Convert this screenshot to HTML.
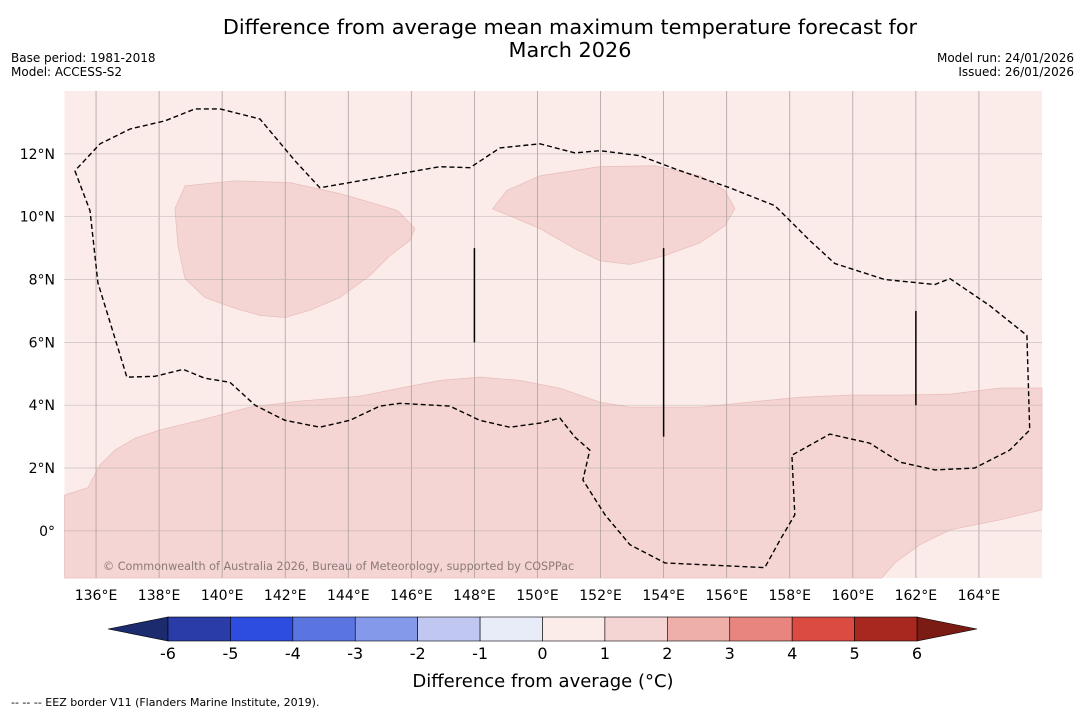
<!DOCTYPE html>
<html><head><meta charset="utf-8"><style>
body{margin:0;background:#fff;font-family:"Liberation Sans","DejaVu Sans",sans-serif}
svg text{font-family:"DejaVu Sans","Liberation Sans",sans-serif}
</style></head><body>
<svg id="chart" width="1085" height="713" viewBox="0 0 1085 713" xmlns="http://www.w3.org/2000/svg">
<rect width="1085" height="713" fill="#fff"/>
<text x="570" y="34" font-size="20.8" text-anchor="middle">Difference from average mean maximum temperature forecast for</text>
<text x="570" y="57" font-size="20.8" text-anchor="middle">March 2026</text>
<text x="11" y="62" font-size="12">Base period: 1981-2018</text>
<text x="11" y="76" font-size="12">Model: ACCESS-S2</text>
<text x="1074" y="62" font-size="12" text-anchor="end">Model run: 24/01/2026</text>
<text x="1074" y="76" font-size="12" text-anchor="end">Issued: 26/01/2026</text>
<g id="map"></g>
<g id="cbar"></g>
<text x="543" y="687" font-size="18" text-anchor="middle">Difference from average (°C)</text>
<text x="11" y="706" font-size="11">--  --  -- EEZ border V11 (Flanders Marine Institute, 2019).</text>
</svg>
<script>
const lonTicks=[136,138,140,142,144,146,148,150,152,154,156,158,160,162,164];
const latTicks=[12,10,8,6,4,2,0];
const eezBorder=[[135.33,11.46],[135.81,10.19],[136.06,7.9],[136.98,4.89],[137.87,4.92],[138.76,5.14],[139.45,4.86],[140.25,4.73],[141.04,4.0],[141.99,3.52],[143.1,3.3],[144.05,3.52],[145.0,3.97],[145.64,4.06],[147.22,3.97],[148.17,3.52],[149.12,3.3],[150.08,3.43],[150.71,3.59],[151.19,2.98],[151.66,2.57],[151.44,1.62],[152.14,0.51],[152.93,-0.44],[154.04,-1.02],[157.21,-1.17],[157.69,-0.29],[158.16,0.51],[158.07,2.41],[159.27,3.08],[160.54,2.79],[161.49,2.19],[162.6,1.94],[163.87,2.0],[164.98,2.57],[165.61,3.21],[165.52,6.22],[164.34,7.17],[163.08,8.03],[162.6,7.84],[161.01,8.0],[159.43,8.51],[158.64,9.24],[157.53,10.35],[156.1,10.92],[154.36,11.52],[153.25,11.94],[151.98,12.1],[151.19,12.03],[150.08,12.32],[148.81,12.19],[147.86,11.56],[146.91,11.59],[143.1,10.92],[142.31,11.78],[141.2,13.11],[139.93,13.43],[139.14,13.43],[138.19,13.05],[137.08,12.79],[136.13,12.32],[135.33,11.46]];
const anomWest=[[138.5,10.25],[138.82,10.98],[140.41,11.14],[142.15,11.08],[143.74,10.73],[144.85,10.41],[145.57,10.19],[146.11,9.62],[145.95,9.24],[145.32,8.76],[144.69,8.13],[143.74,7.43],[142.78,7.02],[141.99,6.79],[141.2,6.86],[140.41,7.08],[139.45,7.43],[138.82,8.03],[138.6,9.08]];
const anomCentral=[[148.58,10.25],[149.03,10.83],[150.08,11.3],[151.98,11.59],[153.72,11.62],[155.15,11.3],[155.94,10.83],[156.26,10.25],[155.94,9.71],[155.15,9.17],[154.04,8.76],[152.93,8.48],[151.98,8.6],[151.19,8.98],[150.08,9.62],[149.12,10.03]];
const anomSouth=[[135,1.14],[135.74,1.37],[136.13,2.1],[136.6,2.57],[137.24,2.95],[138.03,3.21],[139.3,3.52],[140.88,3.94],[142.47,4.13],[144.37,4.29],[145.64,4.54],[146.91,4.79],[148.17,4.89],[149.44,4.79],[150.71,4.54],[151.98,4.1],[152.93,3.94],[155.15,3.94],[156.73,4.1],[158.32,4.25],[159.9,4.32],[161.49,4.32],[163.08,4.35],[164.66,4.54],[166,4.54],[166,0.67],[164.66,0.35],[163.08,0.03],[162.13,-0.44],[161.33,-1.02],[160.92,-1.5],[135,-1.5]];
const eezSegments=[[148,6,9],[154,3,9],[162,4,7]];
const cbarLevels=[-6,-5,-4,-3,-2,-1,0,1,2,3,4,5,6];
const cbarColors=["#2a3ca8","#2d4de0","#5a75e0","#8499ea","#c0c8f2","#e8ebf8","#fbebe9","#f5d5d3","#eeafa9","#e8857f","#dc4b42","#a8281f"];
const NS="http://www.w3.org/2000/svg";
const X0=64.5,X1=1042,Y0=91,Y1=578,LON0=135,LON1=166,LAT0=-1.5,LAT1=14;
const x=lon=>X0+(lon-LON0)*(X1-X0)/(LON1-LON0);
const y=lat=>Y1-(lat-LAT0)*(Y1-Y0)/(LAT1-LAT0);
function el(t,a,p){const e=document.createElementNS(NS,t);for(const k in a)e.setAttribute(k,a[k]);p.appendChild(e);return e;}
const map=document.getElementById('map');
const bg=el('rect',{x:X0,y:Y0,width:X1-X0,height:Y1-Y0,fill:'#fbebe9'},map);


const pts=a=>a.map(p=>x(p[0]).toFixed(1)+','+y(p[1]).toFixed(1)).join(' ');
[['anomaly-west',anomWest],['anomaly-central',anomCentral],['anomaly-south',anomSouth]].forEach(([n,a])=>{
 const p=el('polygon',{points:pts(a),fill:'#f5d5d3',stroke:'#e9c0bd','stroke-width':0.8},map);
 
 
});
lonTicks.forEach(v=>{
 const l=el('line',{x1:x(v),x2:x(v),y1:Y0,y2:Y1,stroke:'#b0a0a0','stroke-width':0.8},map);
 
 
 const t=el('text',{x:x(v),y:600,'font-size':14,'text-anchor':'middle'},map);t.textContent=v+'°E';
 
 
});
latTicks.forEach(v=>{
 const l=el('line',{x1:X0,x2:X1,y1:y(v),y2:y(v),stroke:'#999','stroke-width':0.7,'stroke-dasharray':'1,1'},map);
 
 
 const t=el('text',{x:55,y:y(v)+5,'font-size':14,'text-anchor':'end'},map);t.textContent=v===0?'0°':v+'°N';
 
 
});
const eez=el('polyline',{points:pts(eezBorder),fill:'none',stroke:'#000','stroke-width':1.4,'stroke-dasharray':'5,3'},map);


eezSegments.forEach(s=>{
 const l=el('line',{x1:x(s[0]),x2:x(s[0]),y1:y(s[1]),y2:y(s[2]),stroke:'#000','stroke-width':1.5},map);
 
 
});
const cr=el('text',{x:103,y:570,'font-size':11.2,fill:'#8a7a7a'},map);cr.textContent='© Commonwealth of Australia 2026, Bureau of Meteorology, supported by COSPPac';


const cb=document.getElementById('cbar');
const CB0=168,CB1=917,CBY=617,CBH=24,w=(CB1-CB0)/cbarColors.length;
const lt=el('polygon',{points:`108,${CBY+CBH/2} ${CB0},${CBY} ${CB0},${CBY+CBH}`,fill:'#1c2a6e',stroke:'#000','stroke-width':0.6},cb);


const rt=el('polygon',{points:`977,${CBY+CBH/2} ${CB1},${CBY} ${CB1},${CBY+CBH}`,fill:'#7a1c14',stroke:'#000','stroke-width':0.6},cb);


cbarColors.forEach((c,i)=>{
 const r=el('rect',{x:CB0+i*w,y:CBY,width:w,height:CBH,fill:c,stroke:'#000','stroke-width':0.6},cb);
 
 
});
cbarLevels.forEach((v,i)=>{
 const t=el('text',{x:CB0+i*w,y:659,'font-size':16,'text-anchor':'middle'},cb);t.textContent=v;
 
 
});
</script>
</body></html>
